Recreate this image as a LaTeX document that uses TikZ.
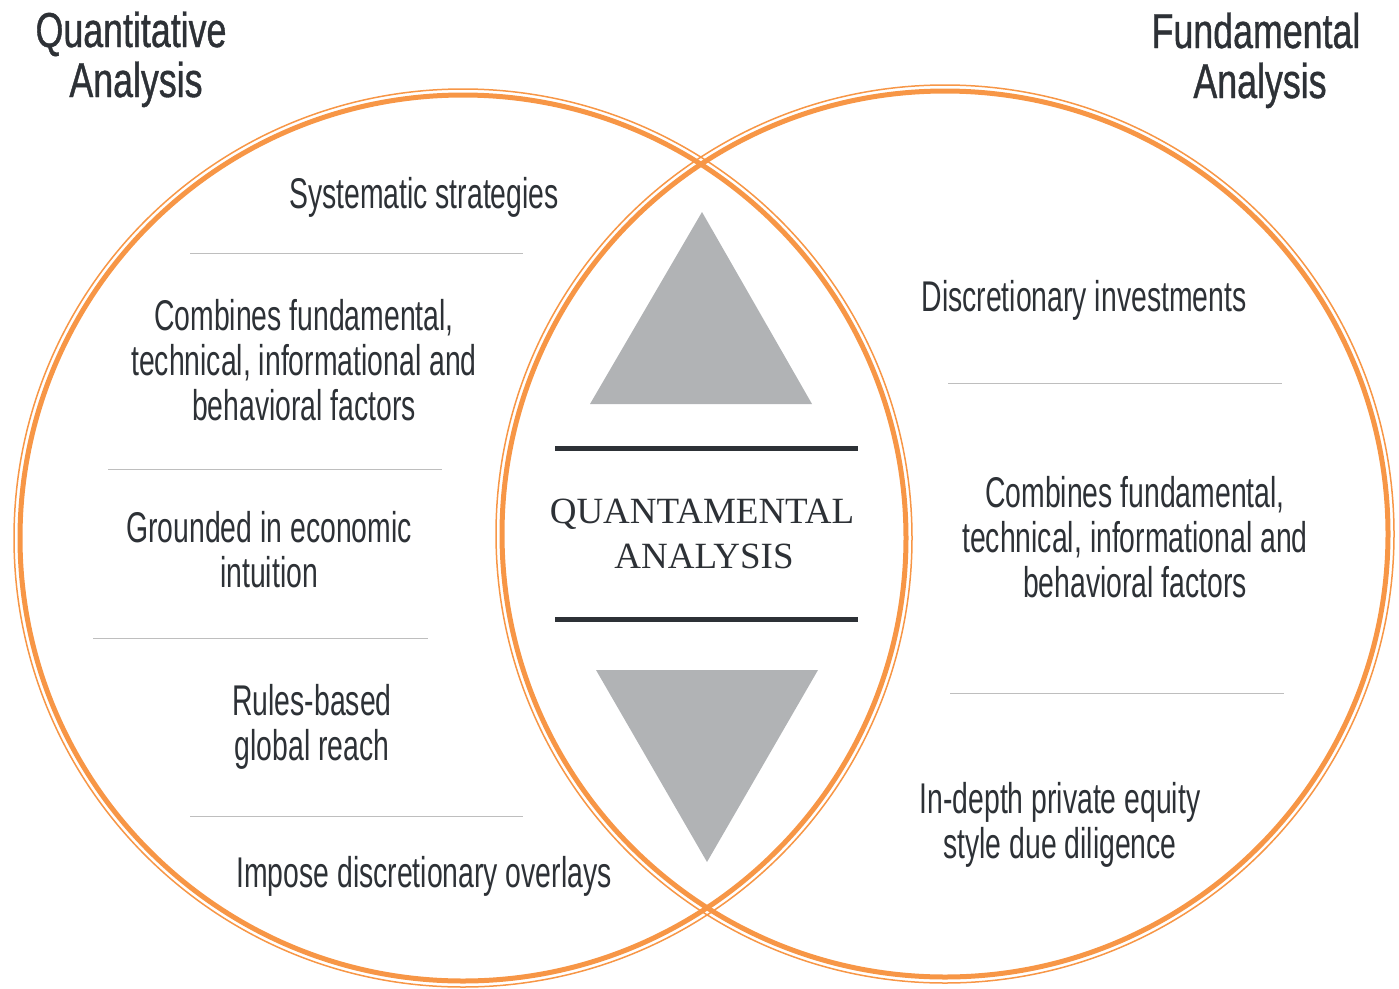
\documentclass[tikz,border=0pt]{standalone}
\usepackage{fontspec}
\setmainfont{Liberation Sans}
\newfontfamily\bodyfont[FakeStretch=0.66]{Liberation Sans}
\newfontfamily\titlefont[FakeStretch=0.73,FakeBold=0.8]{Liberation Sans}
\newfontfamily\centerfont{Liberation Serif}
\definecolor{vorange}{RGB}{247,150,70}
\definecolor{vdark}{RGB}{45,49,54}
\definecolor{vtri}{RGB}{177,179,181}
\definecolor{vsep}{RGB}{190,190,190}
\tikzset{
  thickring/.style={draw=vorange,line width=5pt},
  thinring/.style={draw=vorange,line width=1.5pt},
  sepline/.style={draw=vsep,line width=1pt},
  bar/.style={draw=vdark,line width=5pt},
  tri/.style={fill=vtri,draw=none},
  body/.style={anchor=base,inner sep=0pt,text=vdark,font=\bodyfont\fontsize{43}{45}\selectfont},
  title/.style={anchor=base,inner sep=0pt,text=vdark,font=\titlefont\fontsize{49}{50}\selectfont},
  ctext/.style={anchor=base,inner sep=0pt,text=vdark,font=\centerfont\fontsize{37}{45}\selectfont},
}
\begin{document}
\begin{tikzpicture}[x=1pt,y=-1pt]
\useasboundingbox (0,0) rectangle (1399,988);
% circles
\coordinate (cl) at (463,538);
\coordinate (cr) at (945,534);
\draw[thinring] (cl) circle[radius=449];
\draw[thickring] (cl) circle[radius=443];
\draw[thinring] (cr) circle[radius=449];
\draw[thickring] (cr) circle[radius=443];
% triangles
\fill[tri] (702,212) -- (812,404) -- (590,404) -- cycle;
\fill[tri] (596,670) -- (818,670) -- (707,862) -- cycle;
% bars
\coordinate (b1a) at (555,448); \coordinate (b1b) at (858,448);
\coordinate (b2a) at (555,619); \coordinate (b2b) at (858,619);
\draw[bar] (b1a) -- (b1b);
\draw[bar] (b2a) -- (b2b);
% center text
\node[ctext] (q1) at (702,523) {QUANTAMENTAL};
\node[ctext] (q2) at (704,568) {ANALYSIS};
% titles
\node[title] (t1a) at (131,47) {Quantitative};
\node[title] (t1b) at (136,97) {Analysis};
\node[title] (t2a) at (1256,48) {Fundamental};
\node[title] (t2b) at (1260,98) {Analysis};
% separators left
\coordinate (s1a) at (190,253); \coordinate (s1b) at (523,253);
\coordinate (s2a) at (108,469); \coordinate (s2b) at (442,469);
\coordinate (s3a) at (93,638);  \coordinate (s3b) at (428,638);
\coordinate (s4a) at (190,816); \coordinate (s4b) at (523,816);
\draw[sepline] (s1a) -- (s1b);
\draw[sepline] (s2a) -- (s2b);
\draw[sepline] (s3a) -- (s3b);
\draw[sepline] (s4a) -- (s4b);
% separators right
\coordinate (r1a) at (948,383); \coordinate (r1b) at (1282,383);
\coordinate (r2a) at (950,693); \coordinate (r2b) at (1284,693);
\draw[sepline] (r1a) -- (r1b);
\draw[sepline] (r2a) -- (r2b);
% left texts
\node[body] (l1) at (424,208) {Systematic strategies};
\node[body] (l2a) at (304,330) {Combines fundamental,};
\node[body] (l2b) at (304,375) {technical, informational and};
\node[body] (l2c) at (304,420) {behavioral factors};
\node[body] (l3a) at (269,542) {Grounded in economic};
\node[body] (l3b) at (269,587) {intuition};
\node[body] (l4a) at (312,715) {Rules-based};
\node[body] (l4b) at (312,760) {global reach};
\node[body] (l5) at (424,887) {Impose discretionary overlays};
% right texts
\node[body] (r1) at (1084,311) {Discretionary investments};
\node[body] (r2a) at (1135,507) {Combines fundamental,};
\node[body] (r2b) at (1135,552) {technical, informational and};
\node[body] (r2c) at (1135,597) {behavioral factors};
\node[body] (r3a) at (1060,813) {In-depth private equity};
\node[body] (r3b) at (1060,858) {style due diligence};
\end{tikzpicture}
\end{document}
